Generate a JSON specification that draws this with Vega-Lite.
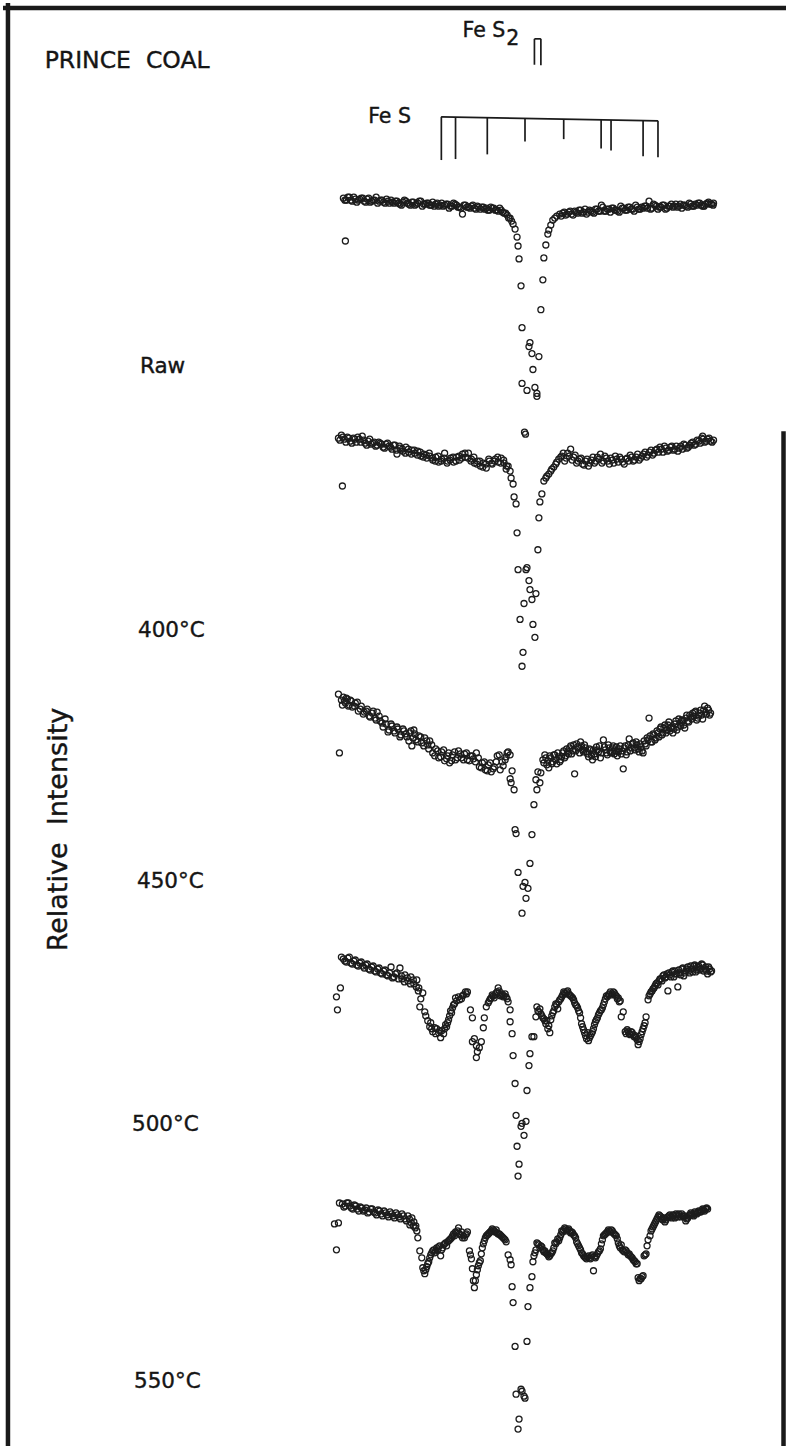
{
"$schema":"https://vega.github.io/schema/vega-lite/v6.json",
"width":789,"height":1449,"padding":0,
"autosize":{"type":"fit","contains":"padding"},
"background":"white",
"config":{"view":{"stroke":null}},
"datasets":{
"frame":[{"x":5,"x2":5,"y":0,"y2":1449},{"x":0,"x2":789,"y":5,"y2":5},{"x":786.5,"x2":786.5,"y":430,"y2":1449}],
"sticks":[{"x":535.5,"x2":535.5,"y":36,"y2":62},{"x":542,"x2":542,"y":36,"y2":62.5},{"x":535.5,"x2":542,"y":36,"y2":36},
{"x":441.5,"x2":660,"y":114.3,"y2":118.3},
{"x":441.7,"x2":441.7,"y":114.3,"y2":157.7},{"x":456,"x2":456,"y":114.6,"y2":156.7},{"x":488,"x2":488,"y":115.2,"y2":152},{"x":526,"x2":526,"y":115.8,"y2":139},{"x":565,"x2":565,"y":116.6,"y2":136.7},{"x":602.7,"x2":602.7,"y":117.3,"y2":146},{"x":612.7,"x2":612.7,"y":117.4,"y2":148},{"x":645,"x2":645,"y":118,"y2":154},{"x":660,"x2":660,"y":118.3,"y2":155}],
"title":[{"label":"PRINCE\u00a0 COAL","x":42,"y":65}],
"phases":[{"label":"Fe S","x":463,"y":34},{"label":"2","x":507,"y":42},{"label":"Fe S","x":368,"y":120}],
"temps":[{"label":"Raw","x":138,"y":372},{"label":"400°C","x":136,"y":637},{"label":"450°C","x":135,"y":889},{"label":"500°C","x":130,"y":1133},{"label":"550°C","x":132,"y":1391}],
"ytitle":[{"label":"Relative\u00a0 Intensity","x":56,"y":830}],
"raw":[{"x":343,"y":196},{"x":346,"y":198},{"x":349,"y":195},{"x":352,"y":199},{"x":355,"y":197},{"x":358,"y":198},{"x":361,"y":196},{"x":364,"y":199},{"x":367,"y":197},{"x":370,"y":200},{"x":373,"y":198},{"x":376,"y":195},{"x":379,"y":199},{"x":382,"y":198},{"x":385,"y":201},{"x":388,"y":199},{"x":391,"y":198},{"x":394,"y":201},{"x":397,"y":199},{"x":400,"y":202},{"x":403,"y":200},{"x":406,"y":199},{"x":409,"y":202},{"x":412,"y":200},{"x":415,"y":203},{"x":418,"y":201},{"x":421,"y":199},{"x":424,"y":202},{"x":427,"y":201},{"x":430,"y":203},{"x":433,"y":200},{"x":436,"y":202},{"x":439,"y":204},{"x":442,"y":201},{"x":445,"y":203},{"x":448,"y":202},{"x":451,"y":204},{"x":454,"y":201},{"x":457,"y":203},{"x":460,"y":205},{"x":463,"y":212},{"x":466,"y":203},{"x":469,"y":205},{"x":472,"y":204},{"x":475,"y":206},{"x":478,"y":204},{"x":481,"y":207},{"x":484,"y":205},{"x":487,"y":206},{"x":490,"y":208},{"x":493,"y":206},{"x":496,"y":208},{"x":499,"y":209},{"x":502,"y":208},{"x":505,"y":211},{"x":508,"y":213},{"x":511,"y":216},{"x":514,"y":222},{"x":345,"y":239},
{"x":516,"y":227},{"x":518,"y":235},{"x":519,"y":244},{"x":520,"y":257},{"x":522,"y":284},{"x":523,"y":326},{"x":523,"y":382},{"x":528,"y":389},{"x":531,"y":341},{"x":530,"y":345},{"x":533,"y":352},{"x":534,"y":368},{"x":536,"y":386},{"x":538,"y":392},{"x":538,"y":395},{"x":540,"y":355},
{"x":542,"y":308},{"x":544,"y":278},{"x":545,"y":256},{"x":547,"y":243},{"x":549,"y":232},{"x":550,"y":228},{"x":552,"y":223},{"x":554,"y":218},{"x":556,"y":216},{"x":558,"y":214},
{"x":561,"y":212},{"x":564,"y":211},{"x":567,"y":213},{"x":570,"y":210},{"x":573,"y":212},{"x":576,"y":209},{"x":579,"y":211},{"x":582,"y":208},{"x":585,"y":210},{"x":588,"y":212},{"x":591,"y":208},{"x":594,"y":210},{"x":597,"y":207},{"x":600,"y":209},{"x":603,"y":203},{"x":606,"y":209},{"x":609,"y":207},{"x":612,"y":210},{"x":615,"y":206},{"x":618,"y":208},{"x":621,"y":210},{"x":624,"y":206},{"x":627,"y":208},{"x":630,"y":205},{"x":633,"y":207},{"x":636,"y":209},{"x":639,"y":205},{"x":642,"y":207},{"x":645,"y":206},{"x":648,"y":204},{"x":651,"y":199},{"x":654,"y":206},{"x":657,"y":203},{"x":660,"y":207},{"x":663,"y":205},{"x":666,"y":203},{"x":669,"y":206},{"x":672,"y":204},{"x":675,"y":205},{"x":678,"y":202},{"x":681,"y":204},{"x":684,"y":206},{"x":687,"y":203},{"x":690,"y":205},{"x":693,"y":202},{"x":696,"y":204},{"x":699,"y":203},{"x":702,"y":201},{"x":705,"y":204},{"x":708,"y":202},{"x":711,"y":200},{"x":714,"y":202},{"x":716,"y":201},
{"x":344.5,"y":198},{"x":347.5,"y":195},{"x":350.5,"y":198},{"x":353.5,"y":195},{"x":356.5,"y":200},{"x":359.5,"y":197},{"x":362.5,"y":196},{"x":365.5,"y":200},{"x":368.5,"y":196},{"x":371.5,"y":199},{"x":374.5,"y":198},{"x":377.5,"y":201},{"x":380.5,"y":198},{"x":383.5,"y":200},{"x":386.5,"y":197},{"x":389.5,"y":201},{"x":392.5,"y":200},{"x":395.5,"y":199},{"x":398.5,"y":201},{"x":401.5,"y":203},{"x":404.5,"y":198},{"x":407.5,"y":201},{"x":410.5,"y":203},{"x":413.5,"y":200},{"x":416.5,"y":202},{"x":419.5,"y":199},{"x":422.5,"y":204},{"x":425.5,"y":202},{"x":428.5,"y":201},{"x":431.5,"y":203},{"x":434.5,"y":204},{"x":437.5,"y":201},{"x":440.5,"y":203},{"x":443.5,"y":204},{"x":446.5,"y":202},{"x":449.5,"y":206},{"x":452.5,"y":204},{"x":455.5,"y":202},{"x":458.5,"y":205},{"x":461.5,"y":206},{"x":464.5,"y":203},{"x":467.5,"y":205},{"x":470.5,"y":206},{"x":473.5,"y":203},{"x":476.5,"y":207},{"x":479.5,"y":205},{"x":482.5,"y":205},{"x":485.5,"y":207},{"x":488.5,"y":208},{"x":491.5,"y":205},{"x":494.5,"y":206},{"x":497.5,"y":208},{"x":500.5,"y":206},{"x":503.5,"y":210},{"x":506.5,"y":211},{"x":509.5,"y":216},{"x":512.5,"y":219},
{"x":562.5,"y":214},{"x":565.5,"y":210},{"x":568.5,"y":212},{"x":571.5,"y":209},{"x":574.5,"y":213},{"x":577.5,"y":210},{"x":580.5,"y":208},{"x":583.5,"y":211},{"x":586.5,"y":207},{"x":589.5,"y":210},{"x":592.5,"y":209},{"x":595.5,"y":211},{"x":598.5,"y":207},{"x":601.5,"y":209},{"x":604.5,"y":205},{"x":607.5,"y":209},{"x":610.5,"y":207},{"x":613.5,"y":206},{"x":616.5,"y":208},{"x":619.5,"y":209},{"x":622.5,"y":204},{"x":625.5,"y":206},{"x":628.5,"y":208},{"x":631.5,"y":205},{"x":634.5,"y":207},{"x":637.5,"y":203},{"x":640.5,"y":207},{"x":643.5,"y":205},{"x":646.5,"y":204},{"x":649.5,"y":206},{"x":652.5,"y":207},{"x":655.5,"y":202},{"x":658.5,"y":204},{"x":661.5,"y":205},{"x":664.5,"y":203},{"x":667.5,"y":207},{"x":670.5,"y":204},{"x":673.5,"y":202},{"x":676.5,"y":204},{"x":679.5,"y":205},{"x":682.5,"y":202},{"x":685.5,"y":203},{"x":688.5,"y":204},{"x":691.5,"y":201},{"x":694.5,"y":204},{"x":697.5,"y":202},{"x":700.5,"y":201},{"x":703.5,"y":203},{"x":706.5,"y":204},{"x":709.5,"y":201},{"x":712.5,"y":202},{"x":715.5,"y":203}],
"c400":[{"x":338,"y":437},{"x":341,"y":434},{"x":344,"y":438},{"x":347,"y":436},{"x":350,"y":440},{"x":353,"y":437},{"x":356,"y":441},{"x":359,"y":438},{"x":362,"y":435},{"x":365,"y":442},{"x":368,"y":440},{"x":371,"y":443},{"x":374,"y":441},{"x":377,"y":444},{"x":380,"y":442},{"x":383,"y":446},{"x":386,"y":443},{"x":389,"y":445},{"x":392,"y":448},{"x":395,"y":444},{"x":397,"y":453},{"x":400,"y":447},{"x":403,"y":450},{"x":406,"y":446},{"x":409,"y":451},{"x":412,"y":449},{"x":415,"y":452},{"x":418,"y":450},{"x":421,"y":455},{"x":424,"y":453},{"x":427,"y":457},{"x":430,"y":455},{"x":433,"y":459},{"x":436,"y":456},{"x":439,"y":461},{"x":442,"y":458},{"x":445,"y":452},{"x":448,"y":460},{"x":451,"y":457},{"x":454,"y":461},{"x":457,"y":456},{"x":460,"y":459},{"x":463,"y":453},{"x":466,"y":456},{"x":469,"y":452},{"x":472,"y":458},{"x":475,"y":462},{"x":478,"y":460},{"x":481,"y":465},{"x":484,"y":462},{"x":487,"y":467},{"x":490,"y":460},{"x":493,"y":463},{"x":496,"y":458},{"x":499,"y":461},{"x":502,"y":457},{"x":505,"y":462},{"x":507,"y":468},{"x":509,"y":465},{"x":511,"y":470},{"x":342,"y":485},
{"x":525.5,"y":431},{"x":526.5,"y":433},
{"x":512,"y":477},{"x":514,"y":483},{"x":515,"y":496},{"x":517,"y":503},{"x":518,"y":532},{"x":519,"y":569},{"x":521,"y":619},{"x":523,"y":666},{"x":524,"y":652},{"x":525,"y":603},{"x":527,"y":569},{"x":528,"y":567},{"x":530,"y":580},{"x":531,"y":589},{"x":533,"y":599},{"x":537,"y":593},{"x":534,"y":624},{"x":536,"y":637},
{"x":539,"y":549},{"x":540,"y":517},{"x":541,"y":501},{"x":543,"y":493},{"x":545,"y":480},{"x":547,"y":477},{"x":548,"y":475},{"x":550,"y":473},{"x":552,"y":470},{"x":553,"y":468},{"x":555,"y":466},{"x":557,"y":463},{"x":558,"y":461},{"x":560,"y":458},{"x":562,"y":456},
{"x":563,"y":455},{"x":566,"y":460},{"x":569,"y":452},{"x":572,"y":448},{"x":575,"y":456},{"x":578,"y":462},{"x":581,"y":458},{"x":584,"y":463},{"x":587,"y":460},{"x":590,"y":465},{"x":593,"y":459},{"x":596,"y":462},{"x":599,"y":456},{"x":602,"y":453},{"x":605,"y":460},{"x":608,"y":457},{"x":611,"y":463},{"x":614,"y":459},{"x":617,"y":455},{"x":620,"y":461},{"x":623,"y":458},{"x":626,"y":463},{"x":629,"y":457},{"x":632,"y":454},{"x":635,"y":460},{"x":638,"y":456},{"x":641,"y":459},{"x":644,"y":455},{"x":647,"y":451},{"x":650,"y":454},{"x":653,"y":449},{"x":656,"y":452},{"x":659,"y":448},{"x":662,"y":446},{"x":665,"y":451},{"x":668,"y":447},{"x":671,"y":449},{"x":674,"y":445},{"x":677,"y":448},{"x":680,"y":450},{"x":683,"y":445},{"x":686,"y":443},{"x":689,"y":447},{"x":692,"y":444},{"x":695,"y":441},{"x":698,"y":443},{"x":701,"y":440},{"x":704,"y":437},{"x":707,"y":441},{"x":710,"y":438},{"x":713,"y":440},{"x":716,"y":439},{"x":705,"y":435},
{"x":339.5,"y":439},{"x":342.5,"y":436},{"x":345.5,"y":441},{"x":348.5,"y":437},{"x":351.5,"y":442},{"x":354.5,"y":438},{"x":357.5,"y":436},{"x":360.5,"y":441},{"x":363.5,"y":439},{"x":366.5,"y":444},{"x":369.5,"y":438},{"x":372.5,"y":442},{"x":375.5,"y":445},{"x":378.5,"y":441},{"x":381.5,"y":443},{"x":384.5,"y":447},{"x":387.5,"y":442},{"x":390.5,"y":446},{"x":393.5,"y":444},{"x":396.5,"y":449},{"x":399.5,"y":445},{"x":402.5,"y":448},{"x":405.5,"y":452},{"x":408.5,"y":448},{"x":411.5,"y":453},{"x":414.5,"y":449},{"x":417.5,"y":454},{"x":420.5,"y":451},{"x":423.5,"y":456},{"x":426.5,"y":454},{"x":429.5,"y":452},{"x":432.5,"y":457},{"x":435.5,"y":460},{"x":438.5,"y":455},{"x":441.5,"y":460},{"x":444.5,"y":457},{"x":447.5,"y":462},{"x":450.5,"y":459},{"x":453.5,"y":456},{"x":456.5,"y":460},{"x":459.5,"y":455},{"x":462.5,"y":457},{"x":465.5,"y":452},{"x":468.5,"y":457},{"x":471.5,"y":460},{"x":474.5,"y":456},{"x":477.5,"y":463},{"x":480.5,"y":460},{"x":483.5,"y":466},{"x":486.5,"y":463},{"x":489.5,"y":458},{"x":492.5,"y":462},{"x":495.5,"y":460},{"x":498.5,"y":456},{"x":501.5,"y":462},{"x":504.5,"y":459},{"x":507.5,"y":465},
{"x":564.5,"y":452},{"x":567.5,"y":457},{"x":570.5,"y":455},{"x":573.5,"y":459},{"x":576.5,"y":454},{"x":579.5,"y":460},{"x":582.5,"y":457},{"x":585.5,"y":464},{"x":588.5,"y":458},{"x":591.5,"y":462},{"x":594.5,"y":456},{"x":597.5,"y":460},{"x":600.5,"y":458},{"x":603.5,"y":462},{"x":606.5,"y":455},{"x":609.5,"y":460},{"x":612.5,"y":457},{"x":615.5,"y":462},{"x":618.5,"y":458},{"x":621.5,"y":456},{"x":624.5,"y":461},{"x":627.5,"y":458},{"x":630.5,"y":460},{"x":633.5,"y":456},{"x":636.5,"y":459},{"x":639.5,"y":453},{"x":642.5,"y":457},{"x":645.5,"y":453},{"x":648.5,"y":456},{"x":651.5,"y":451},{"x":654.5,"y":454},{"x":657.5,"y":449},{"x":660.5,"y":451},{"x":663.5,"y":448},{"x":666.5,"y":445},{"x":669.5,"y":450},{"x":672.5,"y":446},{"x":675.5,"y":449},{"x":678.5,"y":445},{"x":681.5,"y":447},{"x":684.5,"y":448},{"x":687.5,"y":444},{"x":690.5,"y":446},{"x":693.5,"y":442},{"x":696.5,"y":444},{"x":699.5,"y":439},{"x":702.5,"y":442},{"x":705.5,"y":438},{"x":708.5,"y":440},{"x":711.5,"y":437},{"x":714.5,"y":441}],
"c450":[{"x":338,"y":694},{"x":339,"y":753},{"x":341,"y":700},{"x":343,"y":697},{"x":345,"y":703},{"x":347,"y":699},{"x":349,"y":705},{"x":351,"y":701},{"x":354,"y":706},{"x":357,"y":702},{"x":360,"y":709},{"x":363,"y":714},{"x":366,"y":711},{"x":369,"y":716},{"x":372,"y":713},{"x":375,"y":718},{"x":377,"y":712},{"x":380,"y":721},{"x":383,"y":727},{"x":386,"y":724},{"x":389,"y":730},{"x":392,"y":726},{"x":395,"y":733},{"x":398,"y":729},{"x":401,"y":735},{"x":404,"y":731},{"x":407,"y":737},{"x":410,"y":733},{"x":412,"y":746},{"x":414,"y":730},{"x":416,"y":740},{"x":419,"y":736},{"x":422,"y":743},{"x":425,"y":738},{"x":428,"y":745},{"x":430,"y":741},{"x":433,"y":753},{"x":436,"y":749},{"x":439,"y":758},{"x":442,"y":752},{"x":445,"y":761},{"x":448,"y":756},{"x":450,"y":763},{"x":453,"y":755},{"x":456,"y":760},{"x":459,"y":751},{"x":462,"y":758},{"x":465,"y":754},{"x":468,"y":760},{"x":471,"y":756},{"x":474,"y":759},{"x":477,"y":753},{"x":480,"y":767},{"x":483,"y":763},{"x":486,"y":770},{"x":489,"y":765},{"x":492,"y":772},{"x":495,"y":767},{"x":498,"y":756},{"x":501,"y":770},{"x":504,"y":766},{"x":507,"y":757},{"x":509,"y":752},{"x":511,"y":755},
{"x":511,"y":779},{"x":512,"y":783},{"x":513,"y":771},{"x":515,"y":790},{"x":516,"y":830},{"x":517,"y":834},{"x":519,"y":873},{"x":523,"y":914},{"x":524,"y":887},{"x":526,"y":883},{"x":527,"y":899},{"x":529,"y":889},{"x":531,"y":864},{"x":533,"y":835},{"x":535,"y":805},{"x":537,"y":780},{"x":538,"y":790},{"x":539,"y":772},{"x":541,"y":783},{"x":542,"y":773},
{"x":544,"y":760},{"x":546,"y":755},{"x":548,"y":765},{"x":550,"y":768},{"x":552,"y":758},{"x":554,"y":762},{"x":556,"y":755},{"x":558,"y":764},{"x":560,"y":757},{"x":562,"y":760},{"x":564,"y":753},{"x":566,"y":758},{"x":568,"y":749},{"x":570,"y":754},{"x":572,"y":746},{"x":574,"y":751},{"x":576,"y":774},{"x":578,"y":744},{"x":580,"y":748},{"x":582,"y":742},{"x":584,"y":750},{"x":586,"y":745},{"x":588,"y":752},{"x":590,"y":757},{"x":592,"y":750},{"x":594,"y":760},{"x":596,"y":754},{"x":598,"y":747},{"x":600,"y":752},{"x":602,"y":758},{"x":605,"y":740},{"x":607,"y":750},{"x":609,"y":755},{"x":611,"y":748},{"x":613,"y":753},{"x":615,"y":746},{"x":617,"y":751},{"x":619,"y":756},{"x":621,"y":749},{"x":623,"y":754},{"x":625,"y":769},{"x":627,"y":746},{"x":629,"y":752},{"x":631,"y":739},{"x":633,"y":748},{"x":635,"y":743},{"x":637,"y":750},{"x":639,"y":745},{"x":641,"y":752},{"x":643,"y":747},{"x":645,"y":753},{"x":647,"y":744},{"x":649,"y":738},{"x":651,"y":718},{"x":653,"y":742},{"x":655,"y":734},{"x":657,"y":740},{"x":659,"y":731},{"x":661,"y":737},{"x":663,"y":727},{"x":665,"y":733},{"x":667,"y":725},{"x":669,"y":730},{"x":671,"y":722},{"x":673,"y":728},{"x":675,"y":733},{"x":677,"y":724},{"x":679,"y":730},{"x":681,"y":719},{"x":683,"y":726},{"x":685,"y":721},{"x":687,"y":728},{"x":689,"y":715},{"x":691,"y":722},{"x":693,"y":717},{"x":695,"y":713},{"x":697,"y":712},{"x":699,"y":720},{"x":701,"y":716},{"x":703,"y":710},{"x":705,"y":719},{"x":707,"y":706},{"x":709,"y":714},{"x":711,"y":710},{"x":713,"y":713},
{"x":342,"y":705},{"x":344,"y":701},{"x":346,"y":698},{"x":348,"y":706},{"x":350,"y":700},{"x":352,"y":707},{"x":355,"y":703},{"x":358,"y":711},{"x":361,"y":706},{"x":364,"y":712},{"x":367,"y":709},{"x":370,"y":717},{"x":373,"y":711},{"x":376,"y":720},{"x":379,"y":716},{"x":382,"y":723},{"x":385,"y":719},{"x":388,"y":732},{"x":391,"y":724},{"x":394,"y":731},{"x":397,"y":727},{"x":400,"y":737},{"x":403,"y":729},{"x":406,"y":734},{"x":409,"y":741},{"x":411,"y":731},{"x":413,"y":738},{"x":415,"y":734},{"x":418,"y":742},{"x":421,"y":737},{"x":424,"y":746},{"x":427,"y":741},{"x":429,"y":749},{"x":432,"y":745},{"x":435,"y":756},{"x":438,"y":751},{"x":441,"y":757},{"x":444,"y":750},{"x":447,"y":759},{"x":449,"y":753},{"x":452,"y":761},{"x":455,"y":752},{"x":458,"y":758},{"x":461,"y":754},{"x":464,"y":760},{"x":467,"y":753},{"x":470,"y":761},{"x":473,"y":756},{"x":476,"y":762},{"x":479,"y":758},{"x":482,"y":768},{"x":485,"y":762},{"x":488,"y":771},{"x":491,"y":763},{"x":494,"y":769},{"x":497,"y":762},{"x":500,"y":755},{"x":503,"y":762},{"x":506,"y":760},{"x":508,"y":753},
{"x":545,"y":763},{"x":547,"y":758},{"x":549,"y":761},{"x":551,"y":756},{"x":553,"y":764},{"x":555,"y":755},{"x":557,"y":760},{"x":559,"y":753},{"x":561,"y":762},{"x":563,"y":757},{"x":565,"y":751},{"x":567,"y":756},{"x":569,"y":752},{"x":571,"y":748},{"x":573,"y":754},{"x":575,"y":745},{"x":577,"y":751},{"x":579,"y":747},{"x":581,"y":753},{"x":583,"y":746},{"x":585,"y":752},{"x":587,"y":748},{"x":589,"y":754},{"x":591,"y":749},{"x":593,"y":756},{"x":595,"y":750},{"x":597,"y":757},{"x":599,"y":750},{"x":601,"y":746},{"x":603,"y":753},{"x":606,"y":747},{"x":608,"y":753},{"x":610,"y":745},{"x":612,"y":752},{"x":614,"y":748},{"x":616,"y":754},{"x":618,"y":747},{"x":620,"y":752},{"x":622,"y":746},{"x":624,"y":751},{"x":626,"y":748},{"x":628,"y":755},{"x":630,"y":745},{"x":632,"y":751},{"x":634,"y":744},{"x":636,"y":748},{"x":638,"y":742},{"x":640,"y":749},{"x":642,"y":744},{"x":644,"y":751},{"x":646,"y":741},{"x":648,"y":746},{"x":650,"y":740},{"x":652,"y":736},{"x":654,"y":742},{"x":656,"y":735},{"x":658,"y":738},{"x":660,"y":733},{"x":662,"y":729},{"x":664,"y":735},{"x":666,"y":728},{"x":668,"y":733},{"x":670,"y":725},{"x":672,"y":731},{"x":674,"y":727},{"x":676,"y":729},{"x":678,"y":721},{"x":680,"y":727},{"x":682,"y":723},{"x":684,"y":720},{"x":686,"y":725},{"x":688,"y":718},{"x":690,"y":721},{"x":692,"y":715},{"x":694,"y":719},{"x":696,"y":716},{"x":698,"y":711},{"x":700,"y":718},{"x":702,"y":713},{"x":704,"y":715},{"x":706,"y":710},{"x":708,"y":712},{"x":710,"y":708},{"x":712,"y":715}],
"c500":[{"x":341,"y":958},{"x":340,"y":989},{"x":336,"y":998},{"x":337,"y":1011},{"x":343,"y":960},{"x":346,"y":963},{"x":349,"y":958},{"x":352,"y":965},{"x":355,"y":961},{"x":358,"y":967},{"x":361,"y":963},{"x":364,"y":969},{"x":367,"y":965},{"x":370,"y":971},{"x":373,"y":967},{"x":376,"y":973},{"x":379,"y":969},{"x":382,"y":975},{"x":385,"y":971},{"x":388,"y":977},{"x":391,"y":968},{"x":394,"y":978},{"x":397,"y":974},{"x":400,"y":969},{"x":402,"y":980},{"x":405,"y":976},{"x":408,"y":982},{"x":411,"y":978},{"x":414,"y":985},{"x":417,"y":981},{"x":419,"y":989},{"x":421,"y":1000},{"x":420,"y":1008},{"x":423,"y":994},
{"x":425,"y":1013},{"x":426,"y":1017},{"x":428,"y":1022},{"x":430,"y":1028},{"x":431,"y":1024},{"x":433,"y":1033},{"x":435,"y":1029},{"x":437,"y":1030},{"x":439,"y":1034},{"x":441,"y":1039},{"x":442,"y":1032},{"x":444,"y":1035},{"x":445,"y":1030},{"x":447,"y":1028},{"x":448,"y":1024},{"x":450,"y":1017},{"x":451,"y":1012},{"x":453,"y":1009},{"x":455,"y":1005},{"x":457,"y":1002},{"x":459,"y":998},{"x":462,"y":1000},{"x":464,"y":996},{"x":467,"y":995},{"x":468,"y":993},
{"x":471,"y":1011},{"x":473,"y":1019},{"x":473,"y":1043},{"x":475,"y":1040},{"x":477,"y":1047},{"x":478,"y":1053},{"x":477,"y":1059},{"x":480,"y":1049},{"x":482,"y":1043},{"x":484,"y":1029},{"x":485,"y":1019},{"x":487,"y":1008},{"x":489,"y":1004},{"x":490,"y":1002},{"x":492,"y":999},{"x":494,"y":997},{"x":496,"y":996},{"x":498,"y":993},{"x":499,"y":989},{"x":501,"y":997},{"x":503,"y":995},{"x":505,"y":997},{"x":507,"y":998},{"x":509,"y":1003},{"x":511,"y":1011},
{"x":511,"y":1023},{"x":513,"y":1035},{"x":514,"y":1057},{"x":516,"y":1085},{"x":517,"y":1117},{"x":522,"y":1128},{"x":523,"y":1125},{"x":527,"y":1123},{"x":525,"y":1137},{"x":518,"y":1148},{"x":520,"y":1166},{"x":519,"y":1178},{"x":528,"y":1092},{"x":530,"y":1067},{"x":531,"y":1055},{"x":533,"y":1038},{"x":535,"y":1038},
{"x":537,"y":1018},{"x":538,"y":1008},{"x":540,"y":1013},{"x":541,"y":1010},{"x":543,"y":1017},{"x":545,"y":1020},{"x":547,"y":1025},{"x":548,"y":1022},{"x":549,"y":1030},{"x":551,"y":1034},{"x":553,"y":1017},{"x":555,"y":1012},{"x":557,"y":1005},{"x":559,"y":1010},{"x":560,"y":1003},{"x":562,"y":1000},{"x":564,"y":996},{"x":566,"y":994},{"x":568,"y":993},{"x":570,"y":995},{"x":572,"y":997},{"x":574,"y":999},{"x":576,"y":1004},{"x":577,"y":1006},{"x":579,"y":1009},{"x":580,"y":1012},{"x":582,"y":1019},{"x":583,"y":1025},{"x":585,"y":1031},{"x":587,"y":1037},{"x":589,"y":1034},{"x":590,"y":1042},{"x":592,"y":1037},{"x":594,"y":1033},{"x":595,"y":1030},{"x":597,"y":1023},{"x":599,"y":1019},{"x":600,"y":1016},{"x":602,"y":1012},{"x":604,"y":1009},{"x":606,"y":1003},{"x":608,"y":997},{"x":610,"y":996},{"x":612,"y":993},{"x":614,"y":995},{"x":616,"y":994},{"x":618,"y":997},{"x":620,"y":999},{"x":622,"y":1002},{"x":623,"y":1018},{"x":625,"y":1013},{"x":627,"y":1033},{"x":629,"y":1031},{"x":631,"y":1035},{"x":633,"y":1033},{"x":635,"y":1036},{"x":637,"y":1037},{"x":639,"y":1041},{"x":640,"y":1046},{"x":642,"y":1040},{"x":644,"y":1033},{"x":645,"y":1030},{"x":647,"y":1024},{"x":648,"y":1018},{"x":650,"y":1001},{"x":651,"y":997},{"x":653,"y":993},{"x":655,"y":990},{"x":657,"y":987},{"x":659,"y":984},{"x":661,"y":982},{"x":663,"y":980},{"x":665,"y":977},{"x":667,"y":979},{"x":669,"y":975},{"x":670,"y":992},{"x":672,"y":976},{"x":674,"y":973},{"x":676,"y":978},{"x":677,"y":972},{"x":679,"y":975},{"x":680,"y":988},{"x":682,"y":974},{"x":684,"y":970},{"x":686,"y":977},{"x":688,"y":972},{"x":690,"y":968},{"x":692,"y":974},{"x":694,"y":970},{"x":696,"y":967},{"x":698,"y":973},{"x":700,"y":968},{"x":702,"y":971},{"x":704,"y":965},{"x":706,"y":972},{"x":708,"y":968},{"x":710,"y":975},{"x":712,"y":970},{"x":714,"y":972},
{"x":344.5,"y":962},{"x":347.5,"y":959},{"x":350.5,"y":964},{"x":353.5,"y":962},{"x":356.5,"y":966},{"x":359.5,"y":964},{"x":362.5,"y":967},{"x":365.5,"y":966},{"x":368.5,"y":970},{"x":371.5,"y":968},{"x":374.5,"y":972},{"x":377.5,"y":970},{"x":380.5,"y":974},{"x":383.5,"y":972},{"x":386.5,"y":976},{"x":389.5,"y":974},{"x":392.5,"y":979},{"x":395.5,"y":975},{"x":398.5,"y":980},{"x":401.5,"y":977},{"x":404.5,"y":983},{"x":407.5,"y":979},{"x":410.5,"y":985},{"x":413.5,"y":981},{"x":416.5,"y":988},{"x":418.5,"y":992},
{"x":432,"y":1030},{"x":436,"y":1035},{"x":440,"y":1032},{"x":446,"y":1026},{"x":449,"y":1021},{"x":452,"y":1014},{"x":454,"y":1006},{"x":456,"y":999},{"x":460,"y":1001},{"x":463,"y":997},{"x":466,"y":993},
{"x":491,"y":1000},{"x":493,"y":996},{"x":495,"y":999},{"x":497,"y":994},{"x":500,"y":992},{"x":502,"y":996},{"x":504,"y":998},{"x":506,"y":995},{"x":508,"y":1000},
{"x":539,"y":1012},{"x":542,"y":1015},{"x":544,"y":1019},{"x":546,"y":1022},{"x":550,"y":1027},{"x":552,"y":1021},{"x":554,"y":1014},{"x":556,"y":1008},{"x":558,"y":1006},{"x":561,"y":1001},{"x":563,"y":998},{"x":565,"y":993},{"x":567,"y":995},{"x":569,"y":992},{"x":571,"y":996},{"x":573,"y":998},{"x":575,"y":1001},{"x":578,"y":1007},{"x":581,"y":1014},{"x":584,"y":1028},{"x":586,"y":1034},{"x":588,"y":1040},{"x":591,"y":1039},{"x":593,"y":1035},{"x":596,"y":1026},{"x":598,"y":1021},{"x":601,"y":1014},{"x":603,"y":1011},{"x":605,"y":1006},{"x":607,"y":1000},{"x":609,"y":998},{"x":611,"y":995},{"x":613,"y":996},{"x":615,"y":993},{"x":617,"y":996},{"x":619,"y":1000},{"x":621,"y":1003},{"x":628,"y":1035},{"x":630,"y":1033},{"x":632,"y":1036},{"x":634,"y":1034},{"x":636,"y":1038},{"x":638,"y":1039},{"x":641,"y":1043},{"x":643,"y":1036},{"x":646,"y":1027},
{"x":652,"y":995},{"x":654,"y":992},{"x":656,"y":989},{"x":658,"y":985},{"x":660,"y":986},{"x":662,"y":980},{"x":664,"y":982},{"x":666,"y":976},{"x":668,"y":978},{"x":671,"y":974},{"x":673,"y":978},{"x":675,"y":972},{"x":678,"y":975},{"x":681,"y":971},{"x":683,"y":976},{"x":685,"y":969},{"x":687,"y":974},{"x":689,"y":970},{"x":691,"y":972},{"x":693,"y":967},{"x":695,"y":973},{"x":697,"y":966},{"x":699,"y":971},{"x":701,"y":967},{"x":703,"y":970},{"x":705,"y":966},{"x":707,"y":970},{"x":709,"y":972},{"x":711,"y":968},{"x":713,"y":973}],
"c550":[{"x":339,"y":1205},{"x":334,"y":1226},{"x":338,"y":1225},{"x":336,"y":1252},{"x":342,"y":1206},{"x":345,"y":1208},{"x":348,"y":1205},{"x":351,"y":1210},{"x":354,"y":1207},{"x":357,"y":1211},{"x":360,"y":1209},{"x":363,"y":1213},{"x":366,"y":1210},{"x":369,"y":1214},{"x":372,"y":1211},{"x":375,"y":1215},{"x":378,"y":1212},{"x":381,"y":1216},{"x":384,"y":1213},{"x":387,"y":1217},{"x":390,"y":1214},{"x":393,"y":1218},{"x":396,"y":1215},{"x":399,"y":1219},{"x":402,"y":1216},{"x":405,"y":1221},{"x":408,"y":1218},{"x":410,"y":1227},{"x":412,"y":1220},{"x":414,"y":1224},{"x":416,"y":1228},{"x":417,"y":1233},{"x":418,"y":1240},{"x":420,"y":1253},{"x":422,"y":1260},{"x":423,"y":1270},{"x":425,"y":1276},{"x":427,"y":1269},{"x":429,"y":1264},{"x":431,"y":1257},{"x":433,"y":1253},{"x":435,"y":1255},{"x":437,"y":1250},{"x":438,"y":1252},{"x":440,"y":1248},{"x":441,"y":1258},{"x":443,"y":1250},{"x":445,"y":1246},{"x":447,"y":1248},{"x":449,"y":1243},{"x":450,"y":1242},{"x":452,"y":1240},{"x":455,"y":1238},{"x":457,"y":1235},{"x":459,"y":1230},{"x":460,"y":1236},{"x":462,"y":1234},{"x":463,"y":1240},{"x":465,"y":1240},{"x":467,"y":1236},{"x":468,"y":1234},
{"x":470,"y":1253},{"x":472,"y":1261},{"x":473,"y":1271},{"x":474,"y":1283},{"x":475,"y":1290},{"x":477,"y":1277},{"x":479,"y":1268},{"x":481,"y":1263},{"x":483,"y":1250},{"x":485,"y":1243},{"x":486,"y":1240},{"x":488,"y":1237},{"x":490,"y":1235},{"x":492,"y":1233},{"x":494,"y":1232},{"x":496,"y":1234},{"x":498,"y":1235},{"x":500,"y":1236},{"x":502,"y":1238},{"x":504,"y":1240},{"x":506,"y":1242},{"x":507,"y":1244},
{"x":509,"y":1257},{"x":511,"y":1262},{"x":512,"y":1267},{"x":513,"y":1289},{"x":514,"y":1305},{"x":516,"y":1349},{"x":517,"y":1397},{"x":522,"y":1392},{"x":523,"y":1394},{"x":526,"y":1401},{"x":525,"y":1399},{"x":520,"y":1422},{"x":519,"y":1432},{"x":528,"y":1344},{"x":529,"y":1309},{"x":531,"y":1290},{"x":533,"y":1279},
{"x":534,"y":1264},{"x":535,"y":1258},{"x":537,"y":1252},{"x":538,"y":1245},{"x":540,"y":1247},{"x":542,"y":1248},{"x":544,"y":1252},{"x":545,"y":1254},{"x":547,"y":1255},{"x":549,"y":1257},{"x":550,"y":1259},{"x":552,"y":1256},{"x":553,"y":1255},{"x":555,"y":1250},{"x":556,"y":1245},{"x":558,"y":1244},{"x":560,"y":1243},{"x":562,"y":1237},{"x":563,"y":1233},{"x":565,"y":1232},{"x":567,"y":1231},{"x":569,"y":1232},{"x":571,"y":1233},{"x":573,"y":1234},{"x":575,"y":1237},{"x":577,"y":1240},{"x":578,"y":1244},{"x":580,"y":1248},{"x":582,"y":1252},{"x":583,"y":1255},{"x":585,"y":1258},{"x":587,"y":1260},{"x":589,"y":1259},{"x":591,"y":1260},{"x":593,"y":1258},{"x":595,"y":1273},{"x":597,"y":1260},{"x":598,"y":1258},{"x":600,"y":1254},{"x":602,"y":1251},{"x":603,"y":1246},{"x":605,"y":1238},{"x":607,"y":1236},{"x":609,"y":1234},{"x":611,"y":1233},{"x":613,"y":1232},{"x":615,"y":1235},{"x":617,"y":1237},{"x":618,"y":1238},{"x":620,"y":1245},{"x":622,"y":1250},{"x":623,"y":1247},{"x":625,"y":1253},{"x":627,"y":1252},{"x":629,"y":1255},{"x":630,"y":1257},{"x":632,"y":1258},{"x":634,"y":1260},{"x":635,"y":1262},{"x":637,"y":1264},{"x":638,"y":1266},{"x":640,"y":1280},{"x":641,"y":1283},{"x":643,"y":1281},{"x":645,"y":1278},{"x":647,"y":1257},{"x":648,"y":1256},{"x":649,"y":1248},{"x":650,"y":1242},{"x":652,"y":1238},{"x":653,"y":1233},{"x":655,"y":1229},{"x":657,"y":1225},{"x":659,"y":1221},{"x":661,"y":1217},{"x":663,"y":1219},{"x":665,"y":1222},{"x":667,"y":1224},{"x":669,"y":1220},{"x":671,"y":1218},{"x":673,"y":1219},{"x":675,"y":1217},{"x":677,"y":1220},{"x":679,"y":1217},{"x":681,"y":1216},{"x":683,"y":1219},{"x":685,"y":1218},{"x":687,"y":1218},{"x":688,"y":1223},{"x":690,"y":1220},{"x":692,"y":1217},{"x":694,"y":1216},{"x":696,"y":1218},{"x":698,"y":1215},{"x":700,"y":1215},{"x":702,"y":1214},{"x":704,"y":1213},{"x":706,"y":1212},{"x":708,"y":1211},{"x":710,"y":1211},
{"x":343.5,"y":1209},{"x":346.5,"y":1205},{"x":349.5,"y":1208},{"x":352.5,"y":1211},{"x":355.5,"y":1208},{"x":358.5,"y":1213},{"x":361.5,"y":1210},{"x":364.5,"y":1212},{"x":367.5,"y":1215},{"x":370.5,"y":1211},{"x":373.5,"y":1214},{"x":376.5,"y":1217},{"x":379.5,"y":1213},{"x":382.5,"y":1218},{"x":385.5,"y":1215},{"x":388.5,"y":1219},{"x":391.5,"y":1216},{"x":394.5,"y":1220},{"x":397.5,"y":1217},{"x":400.5,"y":1221},{"x":403.5,"y":1218},{"x":406.5,"y":1223},{"x":409.5,"y":1221},{"x":411.5,"y":1225},{"x":413.5,"y":1228},{"x":415.5,"y":1230},
{"x":424,"y":1273},{"x":426,"y":1272},{"x":428,"y":1266},{"x":430,"y":1260},{"x":432,"y":1255},{"x":434,"y":1252},{"x":436,"y":1253},{"x":439,"y":1249},{"x":442,"y":1252},{"x":444,"y":1247},{"x":446,"y":1245},{"x":448,"y":1244},{"x":451,"y":1241},{"x":453,"y":1238},{"x":454,"y":1236},{"x":456,"y":1234},{"x":458,"y":1233},{"x":461,"y":1237},{"x":464,"y":1238},{"x":466,"y":1237},
{"x":471,"y":1257},{"x":476,"y":1283},{"x":478,"y":1272},{"x":480,"y":1265},{"x":482,"y":1256},{"x":484,"y":1246},{"x":487,"y":1238},{"x":489,"y":1236},{"x":491,"y":1234},{"x":493,"y":1231},{"x":495,"y":1233},{"x":497,"y":1232},{"x":499,"y":1236},{"x":501,"y":1237},{"x":503,"y":1239},{"x":505,"y":1241},
{"x":536,"y":1255},{"x":539,"y":1246},{"x":541,"y":1250},{"x":543,"y":1249},{"x":546,"y":1253},{"x":548,"y":1256},{"x":551,"y":1258},{"x":554,"y":1253},{"x":557,"y":1246},{"x":559,"y":1241},{"x":561,"y":1240},{"x":564,"y":1234},{"x":566,"y":1230},{"x":568,"y":1233},{"x":570,"y":1231},{"x":572,"y":1235},{"x":574,"y":1235},{"x":576,"y":1238},{"x":579,"y":1246},{"x":581,"y":1250},{"x":584,"y":1256},{"x":586,"y":1259},{"x":588,"y":1261},{"x":590,"y":1258},{"x":592,"y":1261},{"x":594,"y":1257},{"x":596,"y":1259},{"x":599,"y":1256},{"x":601,"y":1253},{"x":604,"y":1242},{"x":606,"y":1237},{"x":608,"y":1235},{"x":610,"y":1232},{"x":612,"y":1234},{"x":614,"y":1233},{"x":616,"y":1236},{"x":619,"y":1241},{"x":621,"y":1248},{"x":624,"y":1252},{"x":626,"y":1254},{"x":628,"y":1253},{"x":631,"y":1256},{"x":633,"y":1259},{"x":636,"y":1263},{"x":639,"y":1266},{"x":642,"y":1281},{"x":644,"y":1279},{"x":646,"y":1258},
{"x":654,"y":1231},{"x":656,"y":1227},{"x":658,"y":1223},{"x":660,"y":1219},{"x":662,"y":1218},{"x":664,"y":1221},{"x":666,"y":1220},{"x":668,"y":1222},{"x":670,"y":1219},{"x":672,"y":1217},{"x":674,"y":1220},{"x":676,"y":1218},{"x":678,"y":1216},{"x":680,"y":1219},{"x":682,"y":1217},{"x":684,"y":1216},{"x":686,"y":1219},{"x":689,"y":1221},{"x":691,"y":1218},{"x":693,"y":1215},{"x":695,"y":1217},{"x":697,"y":1214},{"x":699,"y":1216},{"x":701,"y":1213},{"x":703,"y":1214},{"x":705,"y":1211},{"x":707,"y":1213},{"x":709,"y":1210}]
},
"layer":[
{"data":{"name":"frame"},"mark":{"type":"rule","strokeWidth":4.5,"color":"#1a1a1a"},
 "encoding":{"x":{"field":"x","type":"quantitative","scale":{"domain":[0,789],"nice":false,"zero":false},"axis":null},"x2":{"field":"x2"},
 "y":{"field":"y","type":"quantitative","scale":{"domain":[0,1449],"nice":false,"zero":false,"reverse":true},"axis":null},"y2":{"field":"y2"}}},
{"data":{"name":"sticks"},"mark":{"type":"rule","strokeWidth":1.7,"color":"#1a1a1a"},
 "encoding":{"x":{"field":"x","type":"quantitative","scale":{"domain":[0,789],"nice":false,"zero":false},"axis":null},"x2":{"field":"x2"},
 "y":{"field":"y","type":"quantitative","scale":{"domain":[0,1449],"nice":false,"zero":false,"reverse":true},"axis":null},"y2":{"field":"y2"}}},
{"data":{"name":"title"},"mark":{"type":"text","font":"DejaVu Sans","fontSize":23.5,"align":"left","baseline":"alphabetic","color":"#151515","stroke":"#151515","strokeWidth":0.4},
 "encoding":{"x":{"field":"x","type":"quantitative","scale":{"domain":[0,789],"nice":false,"zero":false},"axis":null},
 "y":{"field":"y","type":"quantitative","scale":{"domain":[0,1449],"nice":false,"zero":false,"reverse":true},"axis":null},"text":{"field":"label"}}},
{"data":{"name":"phases"},"mark":{"type":"text","font":"DejaVu Sans","fontSize":20.5,"align":"left","baseline":"alphabetic","color":"#151515","stroke":"#151515","strokeWidth":0.4},
 "encoding":{"x":{"field":"x","type":"quantitative","scale":{"domain":[0,789],"nice":false,"zero":false},"axis":null},
 "y":{"field":"y","type":"quantitative","scale":{"domain":[0,1449],"nice":false,"zero":false,"reverse":true},"axis":null},"text":{"field":"label"}}},
{"data":{"name":"temps"},"mark":{"type":"text","font":"DejaVu Sans","fontSize":21.5,"align":"left","baseline":"alphabetic","color":"#151515","stroke":"#151515","strokeWidth":0.4},
 "encoding":{"x":{"field":"x","type":"quantitative","scale":{"domain":[0,789],"nice":false,"zero":false},"axis":null},
 "y":{"field":"y","type":"quantitative","scale":{"domain":[0,1449],"nice":false,"zero":false,"reverse":true},"axis":null},"text":{"field":"label"}}},
{"data":{"name":"ytitle"},"mark":{"type":"text","font":"DejaVu Sans","fontSize":27,"align":"center","baseline":"middle","angle":270,"color":"#151515","stroke":"#151515","strokeWidth":0.4},
 "encoding":{"x":{"field":"x","type":"quantitative","scale":{"domain":[0,789],"nice":false,"zero":false},"axis":null},
 "y":{"field":"y","type":"quantitative","scale":{"domain":[0,1449],"nice":false,"zero":false,"reverse":true},"axis":null},"text":{"field":"label"}}},
{"data":{"name":"raw"},"mark":{"type":"point","shape":"circle","filled":false,"size":36,"stroke":"#1c1c1c","strokeWidth":1.3,"opacity":1},
 "encoding":{"x":{"field":"x","type":"quantitative","scale":{"domain":[0,789],"nice":false,"zero":false},"axis":null},
 "y":{"field":"y","type":"quantitative","scale":{"domain":[0,1449],"nice":false,"zero":false,"reverse":true},"axis":null}}},
{"data":{"name":"c400"},"mark":{"type":"point","shape":"circle","filled":false,"size":36,"stroke":"#1c1c1c","strokeWidth":1.3,"opacity":1},
 "encoding":{"x":{"field":"x","type":"quantitative","scale":{"domain":[0,789],"nice":false,"zero":false},"axis":null},
 "y":{"field":"y","type":"quantitative","scale":{"domain":[0,1449],"nice":false,"zero":false,"reverse":true},"axis":null}}},
{"data":{"name":"c450"},"mark":{"type":"point","shape":"circle","filled":false,"size":36,"stroke":"#1c1c1c","strokeWidth":1.3,"opacity":1},
 "encoding":{"x":{"field":"x","type":"quantitative","scale":{"domain":[0,789],"nice":false,"zero":false},"axis":null},
 "y":{"field":"y","type":"quantitative","scale":{"domain":[0,1449],"nice":false,"zero":false,"reverse":true},"axis":null}}},
{"data":{"name":"c500"},"mark":{"type":"point","shape":"circle","filled":false,"size":36,"stroke":"#1c1c1c","strokeWidth":1.3,"opacity":1},
 "encoding":{"x":{"field":"x","type":"quantitative","scale":{"domain":[0,789],"nice":false,"zero":false},"axis":null},
 "y":{"field":"y","type":"quantitative","scale":{"domain":[0,1449],"nice":false,"zero":false,"reverse":true},"axis":null}}},
{"data":{"name":"c550"},"mark":{"type":"point","shape":"circle","filled":false,"size":36,"stroke":"#1c1c1c","strokeWidth":1.3,"opacity":1},
 "encoding":{"x":{"field":"x","type":"quantitative","scale":{"domain":[0,789],"nice":false,"zero":false},"axis":null},
 "y":{"field":"y","type":"quantitative","scale":{"domain":[0,1449],"nice":false,"zero":false,"reverse":true},"axis":null}}}
]
}
